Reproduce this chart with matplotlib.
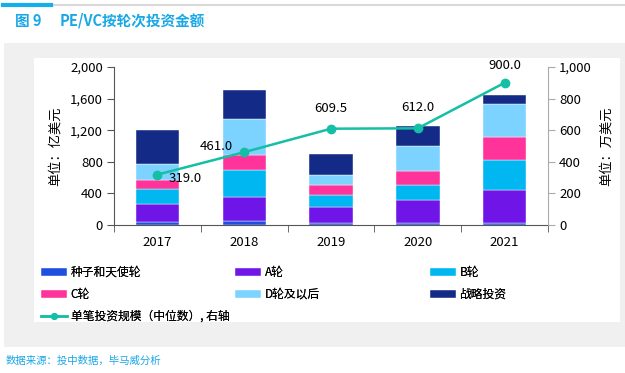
import matplotlib
matplotlib.use("Agg")
import matplotlib.pyplot as plt
import matplotlib.patches as mpatches
from matplotlib.lines import Line2D
import numpy as np

plt.rcParams['font.family'] = ['Noto Sans CJK SC', 'DejaVu Sans']

years = ["2017", "2018", "2019", "2020", "2021"]
seed = [34, 47, 30, 25, 25]
round_a = [228, 312, 198, 292, 419]
round_b = [199, 343, 148, 190, 376]
round_c = [110, 178, 127, 174, 288]
round_d = [207, 465, 131, 313, 423]
strategic = [423, 359, 266, 253, 110]
median_size = [319.0, 461.0, 609.5, 612.0, 900.0]

series_names = ["种子和天使轮", "A轮", "B轮", "C轮", "D轮及以后", "战略投资"]
series_colors = ["#1F4FE0", "#7015E8", "#00B7F1", "#FF3399", "#7DD3FF", "#132B87"]
line_name = "单笔投资规模（中位数）, 右轴"
line_color = "#15BFA6"

W, H = 625, 373
fig = plt.figure(figsize=(W / 100, H / 100), dpi=100)
fig.patch.set_facecolor("white")

def fx(x): return x / W
def fy(y): return 1 - y / H

# background panels
fig.add_artist(mpatches.Rectangle((fx(4), fy(347)), fx(625 - 4), (347 - 43) / H,
                                  transform=fig.transFigure, facecolor="#F0F0F0", edgecolor="none", zorder=0))
fig.add_artist(mpatches.Rectangle((fx(34), fy(322)), fx(620 - 34), (322 - 58) / H,
                                  transform=fig.transFigure, facecolor="white", edgecolor="none", zorder=0))
# top rule
fig.add_artist(Line2D([fx(51), fx(625)], [fy(5), fy(5)], transform=fig.transFigure, color="#D9D9D9", lw=1.5))
fig.add_artist(Line2D([fx(3), fx(51)], [fy(5), fy(5)], transform=fig.transFigure, color="#14AEEA", lw=3))

fig.text(fx(15), fy(21), "图 9", color="#19A8E6", fontsize=10.5,
         fontweight="bold", va="center", ha="left")
fig.text(fx(60), fy(21), "PE/VC按轮次投资金额", color="#19A8E6", fontsize=10.5,
         fontweight="bold", va="center", ha="left")
fig.text(fx(6), fy(361), "数据来源：投中数据，毕马威分析", color="#19A8E6", fontsize=7.5,
         va="center", ha="left")

ax = fig.add_axes([fx(114), fy(225), fx(548 - 114), (225 - 67) / H])
ax.set_facecolor("none")
x = np.arange(len(years))
data = [seed, round_a, round_b, round_c, round_d, strategic]
bottom = np.zeros(len(years))
bars = []
for vals, name, col in zip(data, series_names, series_colors):
    b = ax.bar(x, vals, width=0.5, bottom=bottom, color=col, label=name, zorder=2,
               edgecolor="white", linewidth=0.3)
    bars.append(b)
    bottom += np.array(vals)

ax.set_xlim(-0.5, len(years) - 0.5)
ax.set_ylim(0, 2000)
ax.set_yticks(range(0, 2001, 400))
ax.set_yticklabels([f"{v:,}" for v in range(0, 2001, 400)])
ax.set_xticks(x)
ax.set_xticklabels(years)
ax.tick_params(axis="x", length=0, labelsize=9.5, pad=8)
ax.set_xticks(np.arange(-0.5, len(years), 1), minor=True)
ax.tick_params(axis="x", which="minor", length=5, color="#555555", direction="out")
ax.tick_params(axis="y", labelsize=9.5, length=5, color="#555555", direction="out", pad=3)
for s in ["top", "right"]:
    ax.spines[s].set_visible(False)
ax.spines["left"].set_color("#555555")
ax.spines["bottom"].set_color("#555555")
ax.set_ylabel("单位：亿美元", fontsize=9.5, labelpad=6)

ax2 = ax.twinx()
ax2.set_ylim(0, 1000)
ax2.set_yticks(range(0, 1001, 200))
ax2.set_yticklabels([f"{v:,}" for v in range(0, 1001, 200)])
ax2.tick_params(axis="y", labelsize=9.5, length=5, color="#AAAAAA", direction="out", pad=3)
for s in ["top", "left", "bottom"]:
    ax2.spines[s].set_visible(False)
ax2.spines["right"].set_color("#AAAAAA")
ax2.set_ylabel("单位：万美元", fontsize=9.5, labelpad=6)
ln, = ax2.plot(x, median_size, color=line_color, lw=1.8, marker="o", markersize=6, zorder=5,
               label=line_name)

offsets = [(8, -3, "left", "center"), (-8, 4, "right", "center"), (0, 10, "center", "bottom"),
           (0, 10, "center", "bottom"), (0, 8, "center", "bottom")]
for xi, v, (dx, dy, ha, va) in zip(x, median_size, offsets):
    ax2.annotate(f"{v:.1f}", (xi, v), xytext=(dx, dy), textcoords="offset points",
                 ha=ha, va=va, fontsize=9.5)

line_handle = Line2D([], [], color=line_color, lw=1.8, marker="o", markersize=4)
handles = [b for b in bars]
cols = [([handles[0], handles[3], line_handle], [series_names[0], series_names[3], line_name], 43),
        ([handles[1], handles[4]], [series_names[1], series_names[4]], 237),
        ([handles[2], handles[5]], [series_names[2], series_names[5]], 432)]
for hs, ls, xpos in cols:
    leg = fig.legend(hs, ls, loc="upper left", bbox_to_anchor=(fx(xpos - 2), fy(266)),
                     frameon=False, fontsize=8.5, handlelength=2.2, handleheight=0.7,
                     handletextpad=0.3, labelspacing=0.75, borderpad=0, borderaxespad=0)
    fig.add_artist(leg)

fig.savefig("out.png", dpi=100)
